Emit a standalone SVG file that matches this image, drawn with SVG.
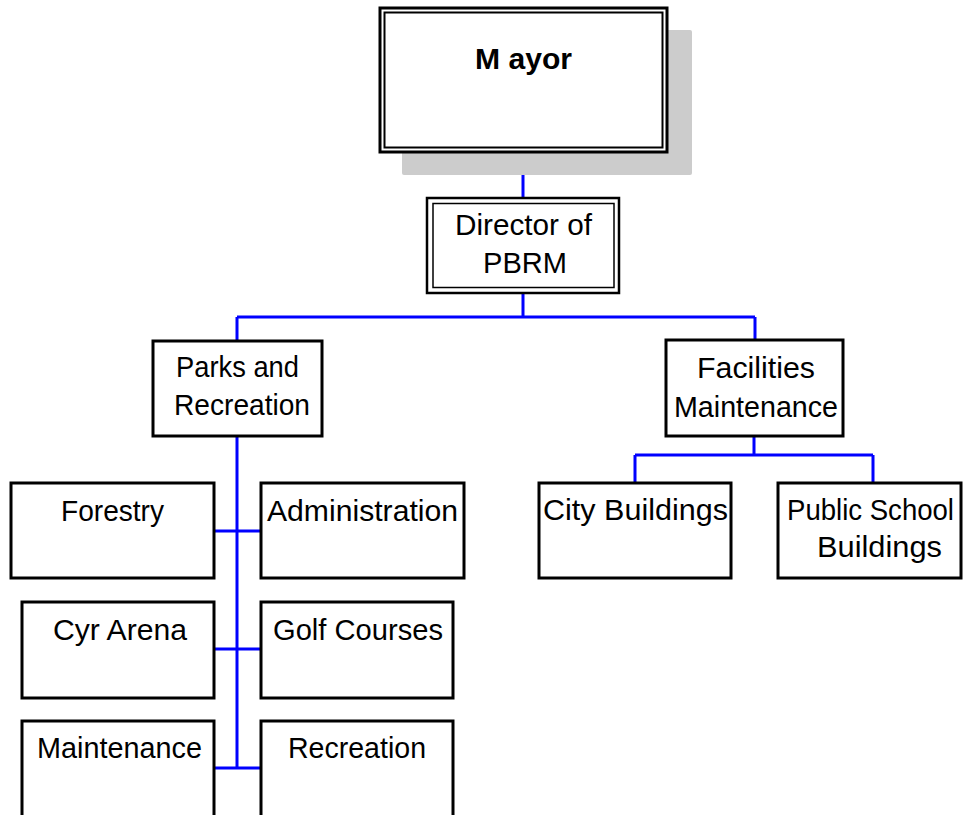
<svg xmlns="http://www.w3.org/2000/svg" width="964" height="815" viewBox="0 0 964 815">
<style>
.box{fill:#fff;stroke:#000;stroke-width:3}
.t{font-family:"Liberation Sans",Arial,sans-serif;font-size:30px;fill:#000}
.b{font-weight:bold;font-size:29px}
.c{fill:none;stroke:#0000ff;stroke-width:3}
</style>
<rect width="964" height="815" fill="#fff"/>
<g id="connectors">
<path class="c" d="M523 152V198"/>
<path class="c" d="M523 293V317M237 317H755M237 317V341M755 317V340"/>
<path class="c" d="M754 436V455M635 455H873M635 455V483M873 455V483"/>
<path class="c" d="M237 436V768M214 531H261M214 649H261M214 768H261"/>
</g>
<g id="mayor">
<rect x="402" y="30" width="290" height="145" rx="2" fill="#cccccc"/>
<rect x="380" y="8" width="287" height="144" fill="#fff" stroke="#000" stroke-width="3"/>
<rect x="384.5" y="12.5" width="278" height="135" fill="none" stroke="#000" stroke-width="2"/>
<text class="t b" x="475" y="69" textLength="97" lengthAdjust="spacingAndGlyphs">M ayor</text>
</g>
<g id="director">
<rect x="427" y="198" width="192" height="95" fill="#fff" stroke="#000" stroke-width="2.5"/>
<rect x="433" y="203.5" width="181" height="84" fill="none" stroke="#000" stroke-width="1.5"/>
<text class="t" x="455" y="235" textLength="137" lengthAdjust="spacingAndGlyphs">Director of</text>
<text class="t" x="483" y="273" textLength="84" lengthAdjust="spacingAndGlyphs">PBRM</text>
</g>
<g id="parks">
<rect class="box" x="153" y="341" width="169" height="95"/>
<text class="t" x="176" y="377" textLength="123" lengthAdjust="spacingAndGlyphs">Parks and</text>
<text class="t" x="174" y="415" textLength="136" lengthAdjust="spacingAndGlyphs">Recreation</text>
</g>
<g id="facilities">
<rect class="box" x="666" y="340" width="177" height="96"/>
<text class="t" x="697" y="378" textLength="118" lengthAdjust="spacingAndGlyphs">Facilities</text>
<text class="t" x="674" y="417" textLength="164" lengthAdjust="spacingAndGlyphs">Maintenance</text>
</g>
<g id="city-buildings">
<rect class="box" x="539" y="483" width="192" height="95"/>
<text class="t" x="543" y="520" textLength="185" lengthAdjust="spacingAndGlyphs">City Buildings</text>
</g>
<g id="public-school">
<rect class="box" x="778" y="483" width="183" height="95"/>
<text class="t" x="787" y="520" textLength="167" lengthAdjust="spacingAndGlyphs">Public School</text>
<text class="t" x="817" y="557" textLength="125" lengthAdjust="spacingAndGlyphs">Buildings</text>
</g>
<g id="forestry">
<rect class="box" x="11" y="483" width="203" height="95"/>
<text class="t" x="61" y="521" textLength="103" lengthAdjust="spacingAndGlyphs">Forestry</text>
</g>
<g id="administration">
<rect class="box" x="261" y="483" width="203" height="95"/>
<text class="t" x="267" y="521" textLength="191" lengthAdjust="spacingAndGlyphs">Administration</text>
</g>
<g id="cyr-arena">
<rect class="box" x="22" y="602" width="192" height="96"/>
<text class="t" x="53" y="640" textLength="134" lengthAdjust="spacingAndGlyphs">Cyr Arena</text>
</g>
<g id="golf-courses">
<rect class="box" x="261" y="602" width="192" height="96"/>
<text class="t" x="273" y="640" textLength="170" lengthAdjust="spacingAndGlyphs">Golf Courses</text>
</g>
<g id="maintenance">
<rect class="box" x="22" y="721" width="192" height="100"/>
<text class="t" x="37" y="758" textLength="165" lengthAdjust="spacingAndGlyphs">Maintenance</text>
</g>
<g id="recreation">
<rect class="box" x="261" y="721" width="192" height="100"/>
<text class="t" x="288" y="758" textLength="138" lengthAdjust="spacingAndGlyphs">Recreation</text>
</g>
</svg>
